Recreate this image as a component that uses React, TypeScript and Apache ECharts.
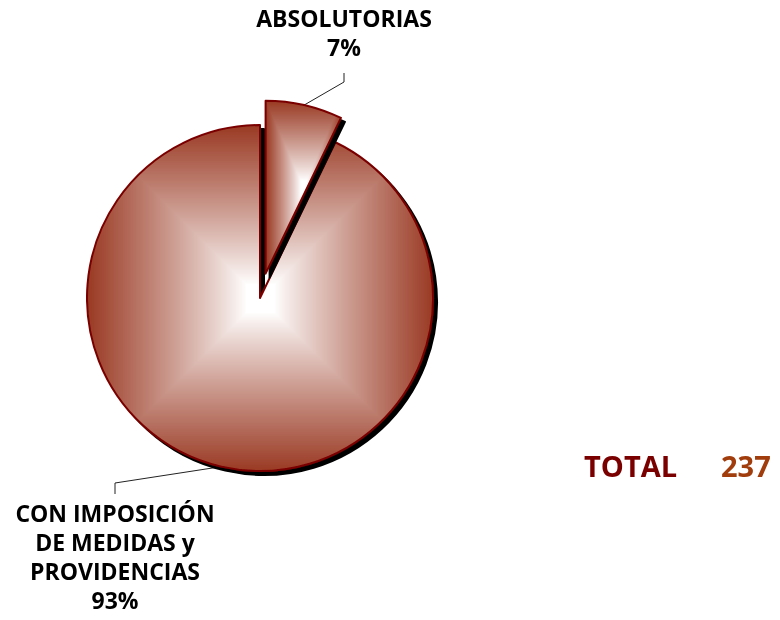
import React, { useEffect, useRef } from 'react';
import * as echarts from 'echarts';

const categories = ['ABSOLUTORIAS', 'CON IMPOSICIÓN\nDE MEDIDAS y\nPROVIDENCIAS'];
const values = [17, 220];
const explodedIndex = 0;
const totalLabel = 'TOTAL';

const EDGE = [154, 58, 36];

// "from centre" rectangular gradient texture covering a slice's bounding box
function makeTexture(w: number, h: number): HTMLCanvasElement {
  const cw = Math.ceil(w) + 4, ch = Math.ceil(h) + 4;
  const c = document.createElement('canvas');
  c.width = cw; c.height = ch;
  const ctx = c.getContext('2d')!;
  const img = ctx.createImageData(cw, ch);
  for (let y = 0; y < ch; y++) {
    for (let x = 0; x < cw; x++) {
      const t = Math.min(1, Math.max(Math.abs(x - w / 2) / (w / 2), Math.abs(y - h / 2) / (h / 2)));
      const f = t < 0.08 ? 0 : Math.pow((t - 0.08) / 0.92, 0.9);
      const k = (y * cw + x) * 4;
      img.data[k] = Math.round(255 - f * (255 - EDGE[0]));
      img.data[k + 1] = Math.round(255 - f * (255 - EDGE[1]));
      img.data[k + 2] = Math.round(255 - f * (255 - EDGE[2]));
      img.data[k + 3] = 255;
    }
  }
  ctx.putImageData(img, 0, 0);
  return c;
}

// bounding box size of a sector (angles clockwise from 12 o'clock)
function sectorSize(r: number, a0: number, a1: number) {
  const pts: number[][] = [[0, 0]];
  const add = (a: number) => pts.push([r * Math.sin(a), -r * Math.cos(a)]);
  add(a0); add(a1);
  for (let k = 0; k <= 4; k++) {
    const a = (k * Math.PI) / 2;
    if (a > a0 && a < a1) add(a);
  }
  const xs = pts.map((p) => p[0]), ys = pts.map((p) => p[1]);
  return { w: Math.max(...xs) - Math.min(...xs), h: Math.max(...ys) - Math.min(...ys) };
}

export default function App() {
  const ref = useRef<HTMLDivElement>(null);
  useEffect(() => {
    const chart = echarts.init(ref.current!, null, { renderer: 'svg' });
    const total = values.reduce((a, b) => a + b, 0);
    const cx = 260, cy = 298, r = 173, explode = 25;
    const starts: number[] = [];
    let acc = 0;
    values.forEach((v) => { starts.push(acc); acc += v; });
    const ang = (v: number) => (v / total) * Math.PI * 2;
    const mid = ang(starts[explodedIndex] + values[explodedIndex] / 2);
    const ecx = cx + explode * Math.sin(mid);
    const ecy = cy - explode * Math.cos(mid);

    const fills = values.map((v, i) => {
      const s = sectorSize(r, ang(starts[i]), ang(starts[i] + v));
      return { image: makeTexture(s.w, s.h), repeat: 'no-repeat' } as any;
    });
    const hidden = {
      itemStyle: { color: 'rgba(0,0,0,0)', borderWidth: 0, shadowColor: 'rgba(0,0,0,0)' },
      label: { show: false }, labelLine: { show: false },
    };
    const labelSpots = [
      { x: 344, y: 3, bend: [344, 82], end: [344, 73] },
      { x: 115, y: 498, bend: [115, 483], end: [115, 494] },
    ];
    const baseSeries = (center: number[], show: (i: number) => boolean) => ({
      type: 'pie',
      center,
      radius: r,
      startAngle: 90,
      clockwise: true,
      selectedMode: false,
      percentPrecision: 0,
      emphasis: { disabled: true },
      data: categories.map((n, i) => show(i)
        ? { name: n, value: values[i], itemStyle: { color: fills[i] } }
        : { name: n, value: values[i], ...hidden }),
      itemStyle: {
        borderColor: '#7a0000', borderWidth: 2,
        shadowColor: '#000', shadowBlur: 0, shadowOffsetX: 4, shadowOffsetY: 4,
      },
      label: {
        show: true, position: 'outside', formatter: '{b}\n{d}%', overflow: 'none',
        fontFamily: 'Open Sans', fontWeight: 'bold', fontSize: 23, lineHeight: 29,
        color: '#000', align: 'center',
      },
      labelLine: { show: true, lineStyle: { color: '#222', width: 1 } },
      labelLayout: (p: any) => {
        const s = labelSpots[p.dataIndex];
        const p0 = p.labelLinePoints ? p.labelLinePoints[0] : s.bend;
        return {
          x: s.x, y: s.y, align: 'center', verticalAlign: 'top',
          labelLinePoints: [p0, s.bend, s.end],
        };
      },
    });
    chart.setOption({
      animation: false,
      graphic: [
        { type: 'text', left: 584, top: 451, style: { text: totalLabel, fill: '#7a0000', font: 'bold 29px "Open Sans"' } },
        { type: 'text', left: 721, top: 451, style: { text: String(total), fill: '#a13c0c', font: 'bold 29px "Open Sans"' } },
      ],
      series: [
        baseSeries([cx, cy], (i) => i !== explodedIndex),
        baseSeries([ecx, ecy], (i) => i === explodedIndex),
      ],
    });
    return () => chart.dispose();
  }, []);
  return <div ref={ref} style={{ position: 'fixed', left: 0, top: 0, width: 780, height: 620 }} />;
}
